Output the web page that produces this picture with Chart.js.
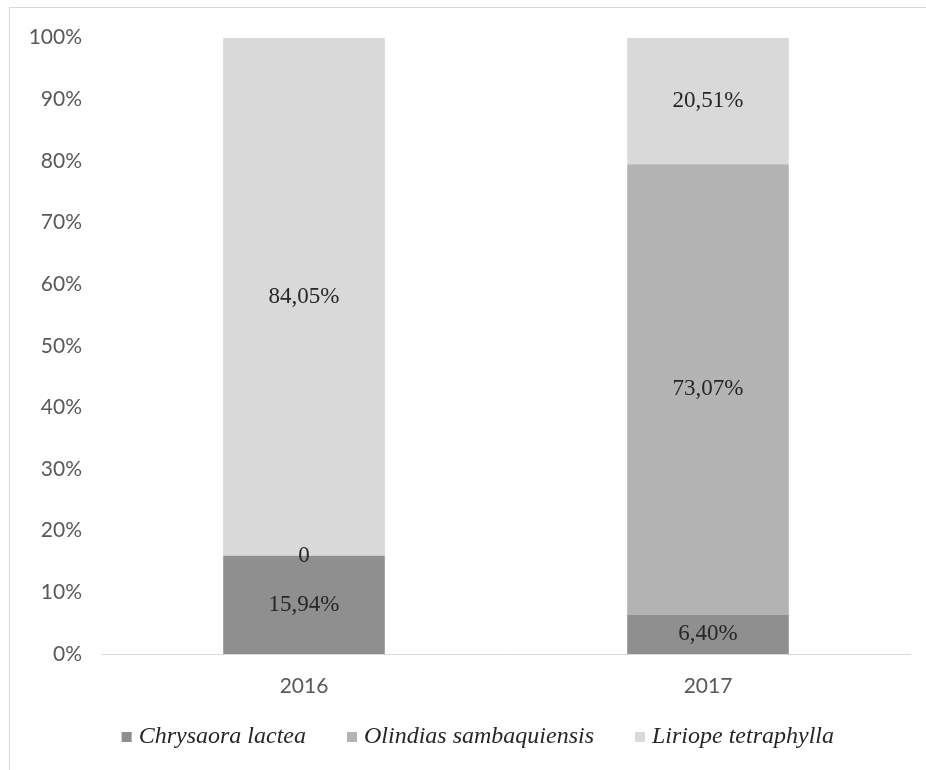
<!DOCTYPE html>
<html>
<head>
<meta charset="utf-8">
<script src="https://cdn.jsdelivr.net/npm/chart.js@4/dist/chart.umd.min.js"></script>
<style>
  html, body { margin: 0; padding: 0; background: #ffffff; overflow: hidden; }
  #frame { position: absolute; left: 9px; top: 7px; width: 917px; height: 763px;
           border-top: 1px solid #d9d9d9; border-left: 1px solid #d9d9d9; }
  #wrap { position: absolute; left: 10px; top: 5px; width: 916px; height: 765px; }
</style>
</head>
<body>
<div id="frame"></div>
<div id="wrap"><canvas id="c" width="916" height="765"></canvas></div>
<script>
const categories = ['2016', '2017'];
const seriesNames = ['Chrysaora lactea', 'Olindias sambaquiensis', 'Liriope tetraphylla'];
const chrysaora = [15.94, 6.40];
const olindias = [0, 73.07];
const liriope = [84.05, 20.51];
const yTicks = [0, 10, 20, 30, 40, 50, 60, 70, 80, 90, 100];
const seriesColors = ['#8f8f8f', '#b3b3b3', '#d9d9d9'];

function fmt(v) {
  if (v === 0) return '0';
  return v.toFixed(2).replace('.', ',') + '%';
}

const dataLabels = {
  id: 'dataLabels',
  afterDatasetsDraw(chart) {
    const ctx = chart.ctx;
    ctx.save();
    ctx.font = '23px "Liberation Serif", "Times New Roman", serif';
    ctx.fillStyle = '#262626';
    ctx.textAlign = 'center';
    ctx.textBaseline = 'middle';
    chart.data.datasets.forEach((ds, di) => {
      const meta = chart.getDatasetMeta(di);
      meta.data.forEach((bar, i) => {
        const p = bar.getProps(['x', 'y', 'base'], true);
        const yc = (p.y + p.base) / 2;
        ctx.fillText(fmt(ds.data[i]), p.x, yc);
      });
    });
    ctx.restore();
  }
};

const customLegend = {
  id: 'customLegend',
  afterDraw(chart) {
    const ctx = chart.ctx;
    ctx.save();
    ctx.font = 'italic 24px "Liberation Serif", "Times New Roman", serif';
    ctx.textBaseline = 'middle';
    ctx.textAlign = 'left';
    const box = 10, gapText = 7, gapItem = 41;
    const items = chart.data.datasets.map(ds => ({ label: ds.label, color: ds.backgroundColor }));
    let total = 0;
    items.forEach((it, i) => {
      it.w = ctx.measureText(it.label).width;
      total += box + gapText + it.w + (i < items.length - 1 ? gapItem : 0);
    });
    let x = 824 - total;
    const y = 732;
    items.forEach(it => {
      ctx.fillStyle = it.color;
      ctx.fillRect(x, y - box / 2, box, box);
      ctx.fillStyle = '#262626';
      ctx.fillText(it.label, x + box + gapText, y);
      x += box + gapText + it.w + gapItem;
    });
    ctx.restore();
  }
};

const datasetsData = [chrysaora, olindias, liriope];

new Chart(document.getElementById('c'), {
  type: 'bar',
  data: {
    labels: categories,
    datasets: seriesNames.map((name, i) => ({
      label: name,
      data: datasetsData[i],
      backgroundColor: seriesColors[i],
      borderWidth: 0,
      barPercentage: 0.4,
      categoryPercentage: 1.0
    }))
  },
  options: {
    responsive: false,
    animation: false,
    layout: { padding: { left: 0, right: 16, top: 26, bottom: 60 } },
    plugins: {
      legend: { display: false },
      tooltip: { enabled: false }
    },
    scales: {
      x: {
        stacked: true,
        grid: { display: false, drawTicks: false },
        border: { display: true, color: '#d9d9d9', width: 1 },
        ticks: {
          padding: 20,
          color: '#595959',
          font: { family: 'Lato, "Liberation Sans", sans-serif', size: 21 }
        },
        afterFit(scale) { scale.height = 56; }
      },
      y: {
        stacked: true,
        min: 0,
        max: 100,
        afterBuildTicks(scale) { scale.ticks = yTicks.map(v => ({ value: v })); },
        grid: { display: false, drawTicks: false },
        border: { display: false },
        ticks: {
          padding: 20,
          color: '#595959',
          font: { family: 'Lato, "Liberation Sans", sans-serif', size: 21 },
          callback: v => v + '%'
        },
        afterFit(scale) { scale.width = 92; }
      }
    }
  },
  plugins: [dataLabels, customLegend]
});
</script>
</body>
</html>
